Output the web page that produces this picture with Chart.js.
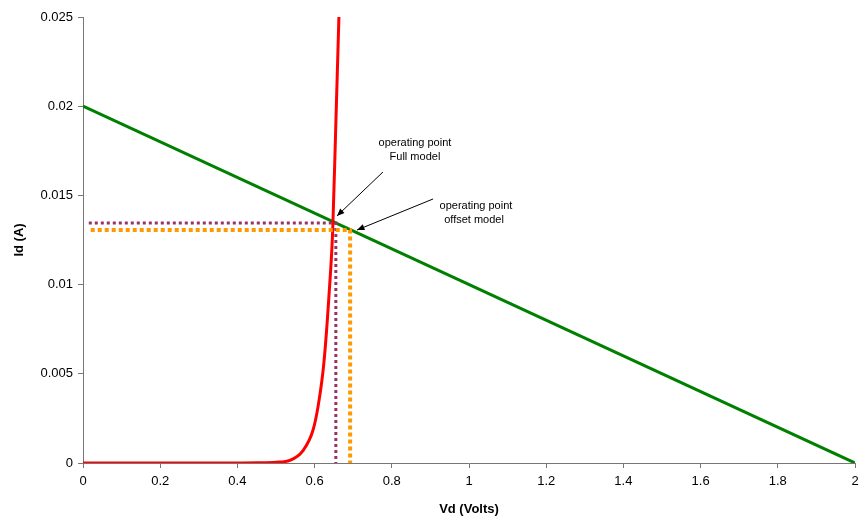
<!DOCTYPE html>
<html>
<head>
<meta charset="utf-8">
<script src="https://cdn.jsdelivr.net/npm/chart.js@4"></script>
<style>
  html, body { margin: 0; padding: 0; background: #fff; }
  #wrap { width: 859px; height: 519px; }
</style>
</head>
<body>
<div id="wrap"><canvas id="chart"></canvas></div>
<script>
// Diode curve
const diodeV = [0, 0.1, 0.2, 0.3, 0.4, 0.45, 0.5, 0.536, 0.57, 0.596, 0.61, 0.624, 0.637, 0.647, 0.655, 0.663];
const diodeI = [0, 0, 0, 0, 0.000005, 0.00001, 0.00004, 0.00015, 0.0007, 0.00185, 0.0033, 0.0056, 0.0093, 0.0131, 0.019, 0.025];

// Load line
const loadV = [0, 2];
const loadI = [0.02, 0];

// Operating points
const fullOp = [0.655, 0.01345];
const offsetOp = [0.692, 0.01306];

// Annotations: text anchor [V, I], arrow start and end [V, I]
const fullLabel = ['operating point', 'Full model'];
const fullLabelPos = [[0.860, 0.01794], [0.860, 0.01715]];
const fullArrow = [[0.777, 0.01631], [0.658, 0.01385]];
const offsetLabel = ['operating point', 'offset model'];
const offsetLabelPos = [[1.018, 0.01441], [1.013, 0.01362]];
const offsetArrow = [[0.907, 0.0148], [0.710, 0.01306]];

const xTicks = [0, 0.2, 0.4, 0.6, 0.8, 1, 1.2, 1.4, 1.6, 1.8, 2];
const yTicks = [0, 0.005, 0.01, 0.015, 0.02, 0.025];

function toPoints(xs, ys) {
    return xs.map((x, i) => ({ x: x, y: ys[i] }));
}

// Draws annotation texts and arrows
const annotationPlugin = {
    id: 'annotations',
    afterDatasetsDraw(chart) {
        const ctx = chart.ctx;
        const xs = chart.scales.x;
        const ys = chart.scales.y;
        const px = p => [xs.getPixelForValue(p[0]), ys.getPixelForValue(p[1])];

        ctx.save();
        ctx.fillStyle = '#000';
        ctx.font = '11px "Liberation Sans", Arial, sans-serif';
        ctx.textAlign = 'center';
        ctx.textBaseline = 'middle';
        fullLabel.forEach((t, i) => { const p = px(fullLabelPos[i]); ctx.fillText(t, p[0], p[1]); });
        offsetLabel.forEach((t, i) => { const p = px(offsetLabelPos[i]); ctx.fillText(t, p[0], p[1]); });

        [fullArrow, offsetArrow].forEach(a => {
            const s = px(a[0]);
            const e = px(a[1]);
            ctx.strokeStyle = '#000';
            ctx.lineWidth = 1;
            ctx.beginPath();
            ctx.moveTo(s[0], s[1]);
            ctx.lineTo(e[0], e[1]);
            ctx.stroke();
            const ang = Math.atan2(e[1] - s[1], e[0] - s[0]);
            const len = 8, w = 0.4;
            ctx.beginPath();
            ctx.moveTo(e[0], e[1]);
            ctx.lineTo(e[0] - len * Math.cos(ang - w), e[1] - len * Math.sin(ang - w));
            ctx.lineTo(e[0] - len * Math.cos(ang + w), e[1] - len * Math.sin(ang + w));
            ctx.closePath();
            ctx.fill();
        });
        ctx.restore();
    }
};

const ctx = document.getElementById('chart').getContext('2d');
new Chart(ctx, {
    type: 'scatter',
    data: {
        datasets: [
            {
                label: 'Offset op',
                data: [{ x: 0.02, y: offsetOp[1] }, { x: offsetOp[0], y: offsetOp[1] }, { x: offsetOp[0], y: 0 }],
                showLine: true,
                borderColor: '#FF9900',
                borderWidth: 4,
                borderDash: [4, 3],
                pointRadius: 0,
                order: 1
            },
            {
                label: 'Full op',
                data: [{ x: 0.015, y: fullOp[1] }, { x: fullOp[0], y: fullOp[1] }, { x: fullOp[0], y: 0 }],
                showLine: true,
                borderColor: '#993366',
                borderWidth: 3,
                borderDash: [3, 3],
                pointRadius: 0,
                order: 2
            },
            {
                label: 'Diode',
                data: toPoints(diodeV, diodeI),
                showLine: true,
                borderColor: '#FF0000',
                borderWidth: 3,
                cubicInterpolationMode: 'monotone',
                pointRadius: 0,
                order: 3
            },
            {
                label: 'Load line',
                data: toPoints(loadV, loadI),
                showLine: true,
                borderColor: '#008000',
                borderWidth: 3,
                pointRadius: 0,
                order: 4
            }
        ]
    },
    options: {
        responsive: true,
        maintainAspectRatio: false,
        animation: false,
        layout: { padding: { left: 0, right: 4, top: 17, bottom: 0 } },
        plugins: {
            legend: { display: false },
            tooltip: { enabled: false }
        },
        scales: {
            x: {
                type: 'linear',
                min: 0,
                max: 2,
                afterBuildTicks: axis => { axis.ticks = xTicks.map(v => ({ value: v })); },
                afterFit: axis => {
                    axis.height = 56;
                    axis.paddingRight = 0;
                    axis.paddingLeft = 0;
                },
                ticks: {
                    color: '#000',
                    font: { family: '"Liberation Sans", Arial, sans-serif', size: 13 },
                    maxRotation: 0,
                    padding: 6,
                    callback: v => String(v)
                },
                grid: { drawOnChartArea: false, tickLength: 5, color: '#777' },
                border: { color: '#777', width: 1 },
                title: {
                    display: true,
                    text: 'Vd (Volts)',
                    color: '#000',
                    font: { family: '"Liberation Sans", Arial, sans-serif', size: 13, weight: 'bold' },
                    padding: { top: 6, bottom: 2 }
                }
            },
            y: {
                type: 'linear',
                min: 0,
                max: 0.025,
                afterBuildTicks: axis => { axis.ticks = yTicks.map(v => ({ value: v })); },
                afterFit: axis => {
                    axis.width = 83;
                    axis.paddingTop = 0;
                    axis.paddingBottom = 0;
                },
                ticks: {
                    color: '#000',
                    font: { family: '"Liberation Sans", Arial, sans-serif', size: 13 },
                    padding: 5,
                    callback: v => String(v)
                },
                grid: { drawOnChartArea: false, tickLength: 5, color: '#777' },
                border: { color: '#777', width: 1 },
                title: {
                    display: true,
                    text: 'Id (A)',
                    color: '#000',
                    font: { family: '"Liberation Sans", Arial, sans-serif', size: 13, weight: 'bold' },
                    padding: { top: 12, bottom: 4 }
                }
            }
        }
    },
    plugins: [annotationPlugin]
});
</script>
</body>
</html>
